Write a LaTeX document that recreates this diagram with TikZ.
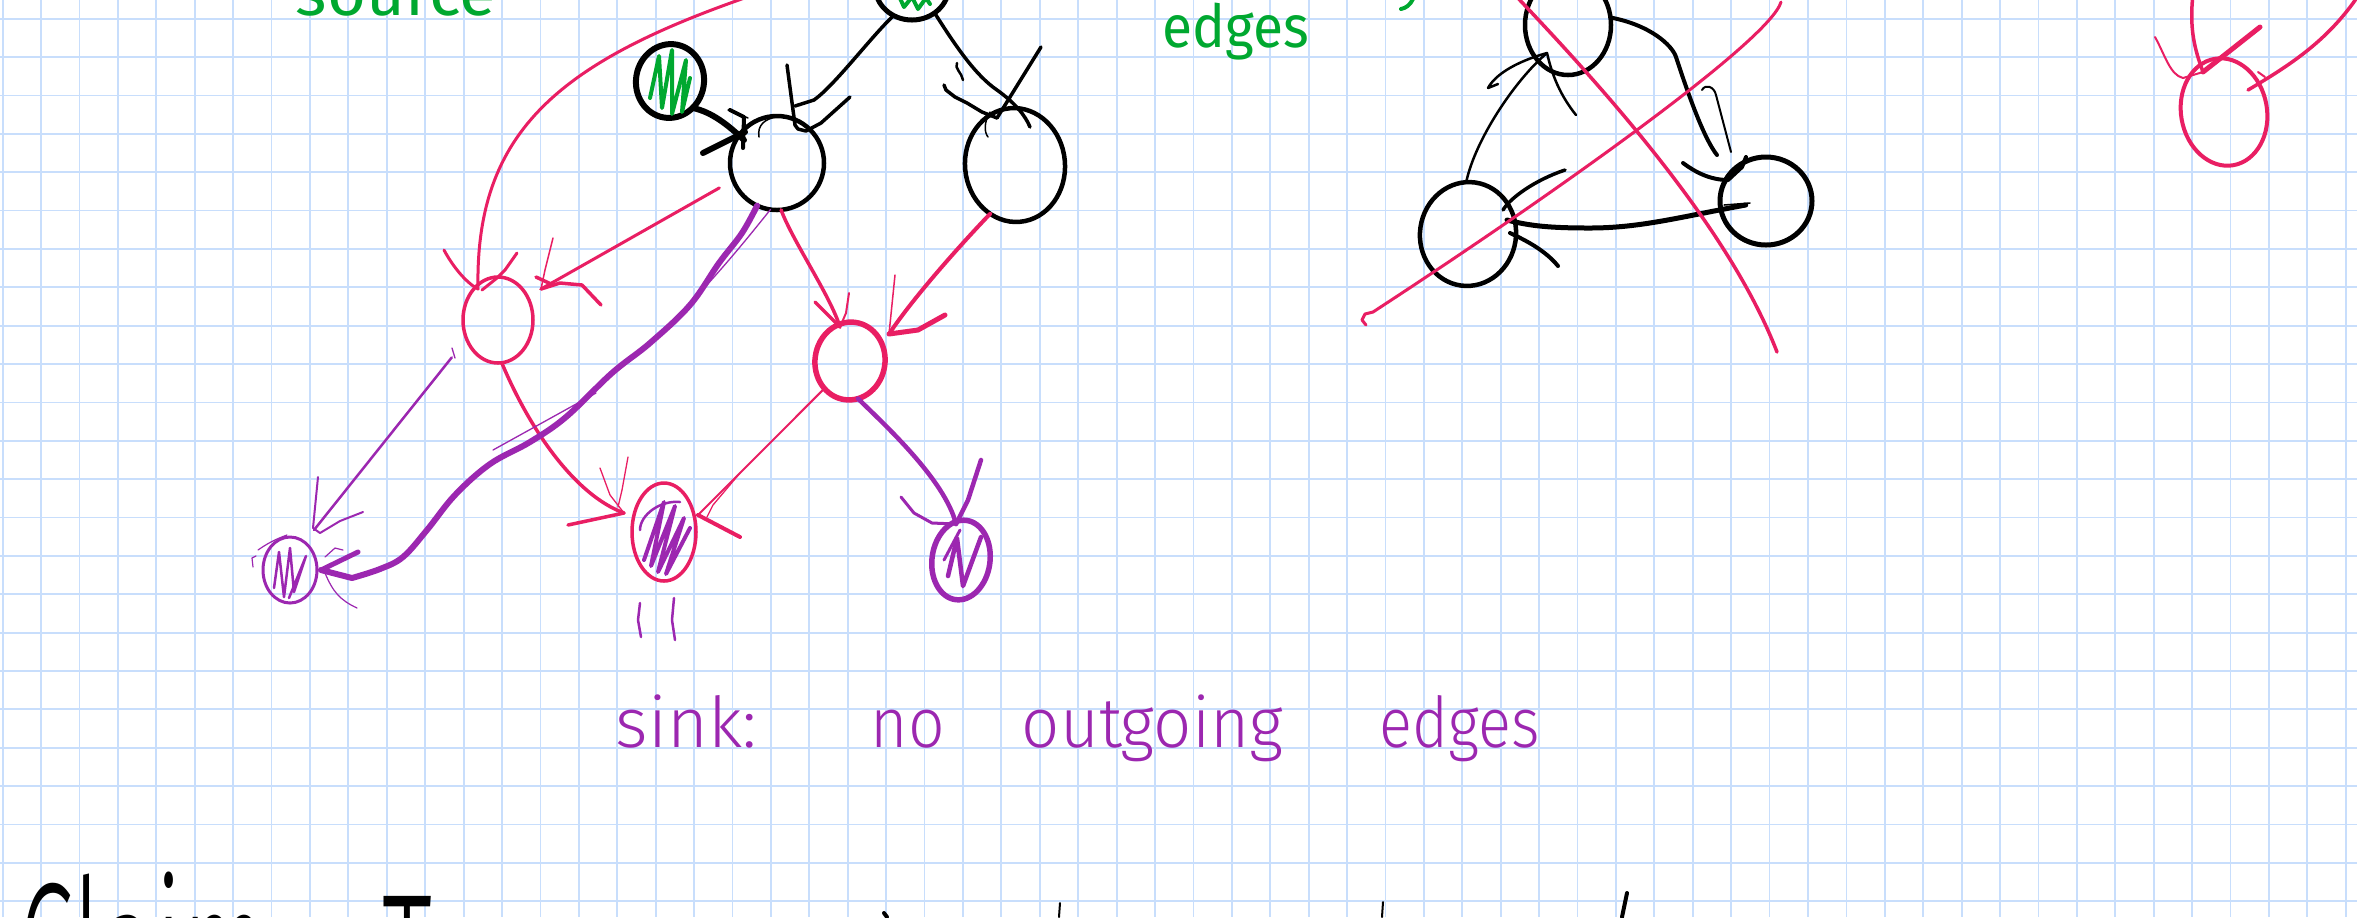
\documentclass[tikz,border=0pt]{standalone}
\usepackage{fontspec}
\newfontfamily\handfont{Fira Sans Light}
\newfontfamily\handfontheavy{Fira Sans}
\usetikzlibrary{shapes.geometric}
\definecolor{gridblue}{RGB}{200,222,252}
\definecolor{inkpink}{RGB}{233,30,99}
\definecolor{inkpurple}{RGB}{156,39,176}
\definecolor{inkgreen}{RGB}{0,168,48}
\newdimen\pxu \pxu=0.01cm
\begin{document}
\begin{tikzpicture}[x=0.01cm,y=-0.01cm,
  ink/.style={line width=#1\pxu, line cap=round, line join=round},
  vtx/.style n args={3}{ellipse, inner sep=0pt, outer sep=0pt,
     minimum width=#1\pxu, minimum height=#2\pxu, line width=#3\pxu},
  hand/.style={anchor=base west, inner sep=0pt,
     font=\handfont\fontsize{#1}{#1}\selectfont},
  handheavy/.style={anchor=base west, inner sep=0pt,
     font=\handfontheavy\fontsize{#1}{#1}\selectfont},
  gridline/.style={draw=gridblue, line width=1.8\pxu}]

% page and squared paper
\useasboundingbox (0,0) rectangle (2357,917);
\clip (0,0) rectangle (2357,917);
\fill[white] (0,0) rectangle (2357,917);
\foreach \k in {0,...,61} \draw[gridline] ({2.7+38.41*\k},0) -- ({2.7+38.41*\k},917);
\foreach \k in {0,...,23} \draw[gridline] (0,{18.7+38.37*\k}) -- (2357,{18.7+38.37*\k});

% ---------------- vertices of the DAG ----------------
\node[vtx={74}{68}{5}, draw=black] (T) at (912,-14) {};
\node[vtx={68}{74}{6}, draw=black, rotate=-10] (s) at (670,81) {};
\node[vtx={94}{94}{4.5}, draw=black] (A) at (777,163) {};
\node[vtx={100}{114}{4.5}, draw=black, rotate=5] (B) at (1015,165) {};
\node[vtx={70}{86}{3.5}, draw=inkpink] (C) at (498,320) {};
\node[vtx={70}{78}{5.5}, draw=inkpink, rotate=-8] (D) at (850,361) {};
\node[vtx={54}{66}{3}, draw=inkpurple] (E) at (290,570) {};
\node[vtx={64}{98}{3.5}, draw=inkpink] (F) at (664,532) {};
\node[vtx={58}{80}{5.5}, draw=inkpurple, rotate=-8] (G) at (961,560) {};

% shading of sources and sinks
\draw[ink=4, inkgreen] (899,-4) -- (904,7) -- (912,-3) -- (918,9) -- (926,-2) -- (930,4);
\draw[ink=4, inkgreen] (650,98) -- (659,56) -- (662,108) -- (672,50) -- (672,114) -- (686,60) -- (682,112) -- (690,78);
\draw[ink=2.5, inkpurple] (274,588) -- (279,552) -- (284,597) -- (290,548) -- (294,592) -- (306,556) -- (289,598);
\draw[ink=4, inkpurple] (644,560) -- (664,502) -- (651,566) -- (675,506) -- (658,572) -- (684,518) -- (666,574) -- (690,528);
\draw[ink=2.5, inkpurple] (640,530) .. controls (640,515) and (660,500) .. (680,502);
\draw[ink=4.5, inkpurple] (948,576) -- (957,538) -- (963,586) -- (981,537);
\draw[ink=3, inkpurple] (944,560) -- (960,530);

% ---------------- black edges ----------------
\coordinate (tipTA) at (798,129);
\draw[ink=3.5] (T.-122) .. controls (870,38) and (835,85) .. (814,100) -- (795,106);
\draw[ink=3.5] (787,65) -- (795,125) -- (tipTA) -- (806,131) -- (821,123) -- (850,97);

\coordinate (tipsA) at (744,140);
\draw[ink=6] (s.-40) .. controls (712,112) and (728,125) .. (tipsA);
\draw[ink=6] (703,153) -- (745,132);
\draw[ink=4] (730,110) -- (744,117) -- (743,148);
\draw[ink=1.5] (728,110) -- (737,113) -- (748,118);
\draw[ink=1.5] (759,137) .. controls (757,125) and (765,119) .. (776,117);

\coordinate (tipTB) at (997,118);
\draw[ink=3.5] (T.-50) .. controls (955,45) and (975,75) .. (997,90) .. controls (1015,103) and (1025,115) .. (1030,127);
\draw[ink=3.5] (1041,47) -- (tipTB);
\draw[ink=3.5] (944,85) -- (946,90) -- (955,97) -- (967,103) -- (982,112) -- (tipTB);
\draw[ink=2.5] (957,63) .. controls (954,68) and (962,73) .. (963,80);
\draw[ink=1.5] (990,112) .. controls (984,122) and (984,132) .. (988,137);

% ---------------- pink edges ----------------
\coordinate (farsrc) at (762,-8);
\coordinate (tipXC) at (478,289);
\draw[ink=3, inkpink] (farsrc) .. controls (560,60) and (475,130) .. (tipXC);
\draw[ink=3, inkpink] (444,250) .. controls (452,265) and (465,282) .. (tipXC);
\draw[ink=3, inkpink] (517,253) -- (505,270) -- (497,278) -- (482,290);

\coordinate (tipAC) at (541,289);
\draw[ink=3, inkpink] (A.205) ++(-15,5) -- (tipAC);
\draw[ink=3.5, inkpink] (536,277) -- (551,284);
\draw[ink=3.5, inkpink] (tipAC) -- (560,283) -- (582,285) -- (601,305);
\draw[ink=1.5, inkpink] (553,238) -- (545,270) -- (tipAC);

\coordinate (tipAD) at (840,327);
\draw[ink=3.5, inkpink] (A.275) .. controls (792,240) and (830,295) .. (tipAD);
\draw[ink=3.5, inkpink] (815,302) -- (826,313) -- (tipAD);
\draw[ink=2, inkpink] (849,293) -- (846,313) -- (tipAD);

\coordinate (tipBD) at (889,334);
\draw[ink=4, inkpink] (B.238) .. controls (965,240) and (915,295) .. (tipBD);
\draw[ink=1.5, inkpink] (895,275) -- (tipBD);
\draw[ink=5, inkpink] (tipBD) -- (918,330) -- (945,315);

\coordinate (tipCF) at (624,513);
\draw[ink=3.5, inkpink] (C.275) .. controls (530,430) and (575,495) .. (tipCF);
\draw[ink=3.5, inkpink] (568,525) -- (tipCF);
\draw[ink=1.3, inkpink] (600,468) -- (610,495) -- (tipCF);
\draw[ink=1.3, inkpink] (628,457) -- (622,490) -- (618,507);

\coordinate (tipDF) at (698,515);
\draw[ink=2, inkpink] (D.235) -- (tipDF);
\draw[ink=1.3, inkpink] (740,473) -- (713,505) -- (707,517);
\draw[ink=4, inkpink] (tipDF) -- (740,537);

% ---------------- purple edges ----------------
\coordinate (tipAE) at (321,570);
\draw[ink=6, inkpurple] plot[smooth, tension=0.6] coordinates {(A.245) (742,233) (719,263) (690,305) (650,343) (612,373) (566,417) (530,442) (490,464) (455,495) (427,530) (403,557) (380,569) (352,578)} -- (tipAE);
\draw[ink=5, inkpurple] (358,552) -- (tipAE);
\draw[ink=1.3, inkpurple] (A.262) .. controls (738,250) and (725,265) .. (697,296);
\draw[ink=1.3, inkpurple] (596,393) -- (493,450);
\draw[ink=1.2, inkpurple] (325,557) -- (335,548) -- (343,550);
\draw[ink=1.2, inkpurple] (325,573) .. controls (333,592) and (340,600) .. (357,608);
\draw[ink=1.2, inkpurple] (253,567) -- (252,558) -- (256,556);
\draw[ink=1.2, inkpurple] (258,550) .. controls (268,543) and (276,539) .. (287,535);

\coordinate (tipCE) at (314,530);
\draw[ink=2.5, inkpurple] (C.222) ++(-18,12) -- (tipCE);
\draw[ink=1.3, inkpurple] (452,348) -- (455,358);
\draw[ink=2, inkpurple] (318,477) -- (313,528) -- (320,533) -- (340,521) -- (363,512);

\coordinate (tipDG) at (956,524);
\draw[ink=4.5, inkpurple] (D.290) .. controls (885,425) and (945,480) .. (tipDG);
\draw[ink=4.5, inkpurple] (981,460) -- (968,500) -- (tipDG);
\draw[ink=3, inkpurple] (901,497) -- (914,513) -- (932,523) -- (tipDG);

% "=" turned upright under the middle sink
\draw[ink=2.5, inkpurple] (640,603) -- (638,620) -- (641,637);
\draw[ink=2.5, inkpurple] (674,598) -- (672,620) -- (675,640);

% ---------------- crossed-out cycle ----------------
\node[vtx={86}{100}{4.5}, draw=black] (T2) at (1568,25) {};
\node[vtx={96}{104}{4.5}, draw=black, rotate=-8] (L) at (1468,234) {};
\node[vtx={92}{88}{5}, draw=black] (R) at (1766,201) {};

\coordinate (tipLT) at (1547,53);
\draw[ink=2.5] (L.100) .. controls (1475,140) and (1515,80) .. (tipLT);
\draw[ink=2.5] (1498,84) -- (1488,88) .. controls (1495,75) and (1515,62) .. (tipLT) .. controls (1552,75) and (1560,95) .. (1576,115);

\coordinate (tipTR) at (1728,180);
\draw[ink=4] (T2.10) .. controls (1650,25) and (1672,45) .. (1676,57) .. controls (1690,100) and (1705,140) .. (1717,155);
\draw[ink=4] (1683,163) .. controls (1695,172) and (1710,180) .. (tipTR) -- (1742,167) -- (1746,157);
\draw[ink=2] (1702,90) .. controls (1705,84) and (1714,86) .. (1716,95) -- (1731,152);
\draw[ink=1.5] (1724,205) -- (1750,203);

\coordinate (tipRL) at (1507,220);
\draw[ink=5] (R.190) ++(25,-4) .. controls (1680,217) and (1640,228) .. (1590,228) .. controls (1550,228) and (1530,226) .. (tipRL);
\draw[ink=3.5] (1565,170) .. controls (1535,180) and (1510,198) .. (1503,210);
\draw[ink=4] (1510,233) .. controls (1525,240) and (1545,250) .. (1558,266);

\draw[ink=3.5, inkpink] (1515,-5) .. controls (1610,95) and (1730,230) .. (1777,352);
\draw[ink=3, inkpink] (1781,2) .. controls (1770,40) and (1560,190) .. (1373,312) -- (1365,314) -- (1362,320) -- (1366,325);

% ---------------- far right vertex ----------------
\node[vtx={86}{108}{4}, draw=inkpink, rotate=10] (P) at (2224,112) {};
\coordinate (farin) at (2193,-6);
\coordinate (tipP) at (2203,72);
\draw[ink=3.5, inkpink] (farin) .. controls (2189,30) and (2195,50) .. (tipP);
\draw[ink=2, inkpink] (2155,37) .. controls (2165,55) and (2170,75) .. (2183,78) -- (tipP);
\draw[ink=5, inkpink] (2260,27) -- (tipP);
\coordinate (farin2) at (2362,-10);
\coordinate (tipP2) at (2248,90);
\draw[ink=3.5, inkpink] (farin2) .. controls (2330,40) and (2290,65) .. (tipP2);
\draw[ink=2, inkpink] (2258,72) -- (2265,77);

% ---------------- handwriting ----------------
\node[handheavy=15, text=inkgreen, xscale=1.27, yscale=1.2] (lblsource) at (295,15) {source};
\node[handheavy=13.5, text=inkgreen, xscale=1.16, yscale=1.25] (lbledges) at (1162,47) {edges};
\draw[ink=4, inkgreen] (1413,-1) .. controls (1410,5) and (1406,8) .. (1401,9);

\node[hand=16.6, text=inkpurple, xscale=1.2, yscale=1.2] (lblsink) at (615,747) {sink:};
\node[hand=16.6, text=inkpurple, xscale=1.1, yscale=1.2] (lblno) at (870,747) {no};
\node[hand=16.6, text=inkpurple, xscale=1.15, yscale=1.2] (lblout) at (1021,747) {outgoing};
\node[hand=16.6, text=inkpurple, xscale=1.05, yscale=1.2] (lbledg) at (1379,747) {edges};

% next line of the notes, only its top shows
\node[hand=22, text=black, xscale=1.3, yscale=2.55] (lblclaim) at (18,1020) {Claim:};
\node[hand=22, text=black, xscale=1.3, yscale=2.55] (lblT) at (382,1031) {T};
\draw[ink=4] (884,913) -- (887,917);
\draw[ink=2] (1060,903) -- (1059,917);
\draw[ink=2] (1383,902) -- (1382,917);
\draw[ink=4] (1627,893) -- (1622,917);
\end{tikzpicture}
\end{document}
